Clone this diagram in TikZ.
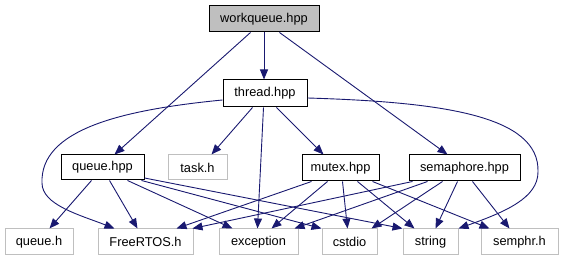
\documentclass[tikz,border=0pt]{standalone}
\usepackage{fontspec}
\setmainfont{Liberation Sans}
\usetikzlibrary{arrows.meta}
\definecolor{edgeblue}{HTML}{191970}
\definecolor{boxgray}{HTML}{BFBFBF}
\begin{document}
\begin{tikzpicture}[x=1pt,y=-1pt,
  file/.style={minimum height=26pt, inner sep=0pt, line width=1pt,
    font=\fontsize{12.8}{15}\selectfont},
  project/.style={file, draw=black},
  extern/.style={file, draw=boxgray},
  current/.style={project, fill=boxgray},
  dep/.style={draw=edgeblue, line width=0.9pt,
    -{Triangle[length=10pt,width=8pt]}}]
\useasboundingbox (0,0) rectangle (563,261);

% headers of the project
\node[current, minimum width=110pt] (wq) at (264,19) {workqueue.hpp};
\node[project, minimum width=84pt, minimum height=27pt] (th) at (265,93.5) {thread.hpp};
\node[project, minimum width=83pt, minimum height=25pt] (qh) at (102.5,167.5) {queue.hpp};
\node[extern,  minimum width=59pt, minimum height=25pt] (tk) at (197.5,167.5) {task.h};
\node[project, minimum width=77pt] (mh) at (340.5,168) {mutex.hpp};
\node[project, minimum width=111pt] (sh) at (464.5,168) {semaphore.hpp};

% system and library headers
\node[extern, minimum width=68pt] (qc)  at (39,242)    {queue.h};
\node[extern, minimum width=95pt] (frt) at (145.5,242) {FreeRTOS.h};
\node[extern, minimum width=79pt] (exc) at (258.5,242) {exception};
\node[extern, minimum width=55pt] (cst) at (349.5,242) {cstdio};
\node[extern, minimum width=55pt] (str) at (430.5,242) {string};
\node[extern, minimum width=77pt] (smp) at (519.5,242) {semphr.h};

% workqueue.hpp
\draw[dep] (wq.south) -- (wq.south |- th.north);
\draw[dep] ([xshift=42pt]wq.south west) -- ([xshift=54pt]qh.north west);
\draw[dep] ([xshift=71pt]wq.south west) -- ([xshift=39pt]sh.north west);

% thread.hpp
\draw[dep] ([xshift=30pt]th.south west) -- ([xshift=44pt]tk.north west);
\draw[dep] ([xshift=41pt]th.south west) -- ([xshift=39pt]exc.north west);
\draw[dep] ([xshift=54pt]th.south west) -- ([xshift=22pt]mh.north west);
\draw[dep] ([yshift=-6.5pt]th.west) .. controls (120,110) and (40,130) .. (42,183)
  .. controls (42,205) and (80,215) .. ([xshift=17pt]frt.north west);
\draw[dep] ([yshift=-4.5pt]th.east) .. controls (440,102) and (540,115) .. (538,172)
  .. controls (538,198) and (505,212) .. (str.north east);

% queue.hpp
\draw[dep] ([xshift=31pt]qh.south west) -- ([xshift=45pt]qc.north west);
\draw[dep] ([xshift=49pt]qh.south west) -- ([xshift=40pt]frt.north west);
\draw[dep] ([xshift=67pt]qh.south west) -- ([xshift=14pt]exc.north west);
\draw[dep] ([xshift=81pt]qh.south west) -- (cst.north west);
\draw[dep] ([yshift=-10.5pt]qh.east) -- (str.north west);

% mutex.hpp
\draw[dep] ([xshift=10pt]mh.south west) -- ([xshift=79pt]frt.north west);
\draw[dep] ([xshift=26pt]mh.south west) -- ([xshift=53pt]exc.north west);
\draw[dep] ([xshift=41pt]mh.south west) -- ([xshift=26pt]cst.north west);
\draw[dep] ([xshift=56pt]mh.south west) -- ([xshift=12pt]str.north west);
\draw[dep] ([xshift=71pt]mh.south west) -- ([xshift=9pt]smp.north west);

% semaphore.hpp
\draw[dep] ([xshift=4pt]sh.south west)  -- ([xshift=95pt]frt.north west);
\draw[dep] ([xshift=19pt]sh.south west) -- ([xshift=76pt]exc.north west);
\draw[dep] ([xshift=34pt]sh.south west) -- ([xshift=50pt]cst.north west);
\draw[dep] ([xshift=49pt]sh.south west) -- ([xshift=33pt]str.north west);
\draw[dep] ([xshift=64pt]sh.south west) -- ([xshift=29pt]smp.north west);
\end{tikzpicture}
\end{document}
